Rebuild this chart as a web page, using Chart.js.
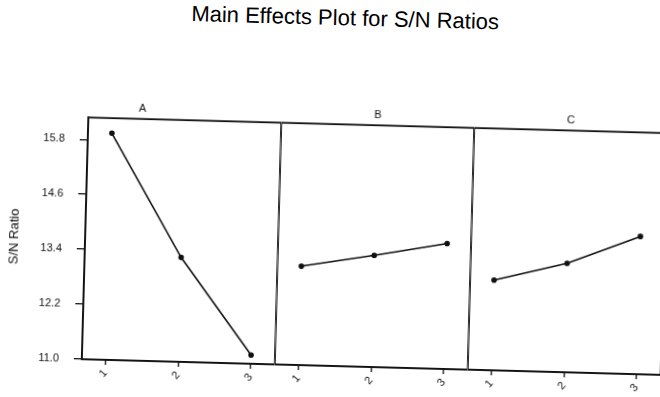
<!DOCTYPE html>
<html>
<head>
<meta charset="utf-8">
<script src="https://cdn.jsdelivr.net/npm/chart.js@4/dist/chart.umd.min.js"></script>
<style>
  html, body { margin: 0; padding: 0; background: #fff; overflow: hidden; }
  /* the source is a slightly tilted scan, so the whole sheet is turned a bit */
  #page { position: relative; width: 660px; height: 397px; transform: rotate(1.55deg); transform-origin: 371px 246px; }
  #title { position: absolute; left: 139px; width: 400px; top: 6px; text-align: center;
           font: 22px 'Liberation Sans', Arial, sans-serif; color: #000; }
  canvas { position: absolute; top: 100px; }
  #panelA { left: 0; }
  #panelB { left: 278px; }
  #panelC { left: 471px; }
</style>
</head>
<body>
<div id="page">
  <div id="title">Main Effects Plot for S/N Ratios</div>
  <canvas id="panelA" width="278" height="297"></canvas>
  <canvas id="panelB" width="193" height="297"></canvas>
  <canvas id="panelC" width="193" height="297"></canvas>
</div>
<script>
const factors = ['A', 'B', 'C'];
const levels = ['1', '2', '3'];
const snA = [15.95, 13.28, 11.19];
const snB = [13.16, 13.44, 13.74];
const snC = [12.97, 13.38, 14.01];
const yTicks = [11.0, 12.2, 13.4, 14.6, 15.8];
const yMin = 11.0;
const yMax = 16.28;

const FONT = "'Liberation Sans', Arial, sans-serif";
const INK = '#111';

// full frame round each panel (top and right sides are not axes)
const boxPlugin = {
  id: 'box',
  afterDraw(chart) {
    const { ctx, chartArea: a } = chart;
    ctx.save();
    ctx.strokeStyle = INK;
    ctx.lineWidth = 1.8;
    ctx.strokeRect(a.left, a.top, a.right - a.left, a.bottom - a.top);
    ctx.restore();
  }
};

function makePanel(canvasId, factor, values, showY) {
  const ctx = document.getElementById(canvasId).getContext('2d');
  return new Chart(ctx, {
    type: 'line',
    data: {
      datasets: [{
        label: factor,
        data: levels.map((l, i) => ({ x: i + 1, y: values[i] })),
        borderColor: INK,
        backgroundColor: INK,
        borderWidth: 1.6,
        pointRadius: 2,
        pointHoverRadius: 2,
        tension: 0
      }]
    },
    options: {
      responsive: false,
      animation: false,
      // panels butt against each other, so no automatic padding anywhere
      layout: { padding: 0, autoPadding: false },
      plugins: {
        legend: { display: false },
        tooltip: { enabled: false },
        title: {
          display: true,
          text: factor,
          color: INK,
          font: { family: FONT, size: 11, weight: 'normal' },
          padding: { top: 8, bottom: 4 }
        }
      },
      scales: {
        x: {
          type: 'linear',
          min: 0.67,
          max: 3.33,
          afterBuildTicks: (s) => { s.ticks = levels.map((l, i) => ({ value: i + 1 })); },
          afterFit: (s) => { s.height = 30; s.paddingLeft = 0; s.paddingRight = 0; },
          ticks: {
            color: INK,
            font: { family: FONT, size: 11 },
            minRotation: 50,
            maxRotation: 50,
            padding: 2,
            callback: (v) => levels[v - 1]
          },
          grid: { drawOnChartArea: false, drawTicks: true, tickLength: 5, color: INK, lineWidth: 1.3 },
          border: { display: true, color: INK, width: 1.6 }
        },
        y: {
          type: 'linear',
          display: showY,
          min: yMin,
          max: yMax,
          afterBuildTicks: (s) => { s.ticks = yTicks.map((v) => ({ value: v })); },
          afterFit: (s) => { s.width = showY ? 85 : 0; s.paddingTop = 0; s.paddingBottom = 0; },
          title: {
            display: true,
            text: 'S/N Ratio',
            color: INK,
            font: { family: FONT, size: 13 },
            padding: { top: 7, bottom: 0 }
          },
          ticks: {
            color: INK,
            font: { family: FONT, size: 11 },
            padding: 15,
            callback: (v) => v.toFixed(1)
          },
          grid: { drawOnChartArea: false, drawTicks: true, tickLength: 8, color: INK, lineWidth: 1.3 },
          border: { display: true, color: INK, width: 1.6 }
        }
      }
    },
    plugins: [boxPlugin]
  });
}

makePanel('panelA', factors[0], snA, true);
makePanel('panelB', factors[1], snB, false);
makePanel('panelC', factors[2], snC, false);
</script>
</body>
</html>
